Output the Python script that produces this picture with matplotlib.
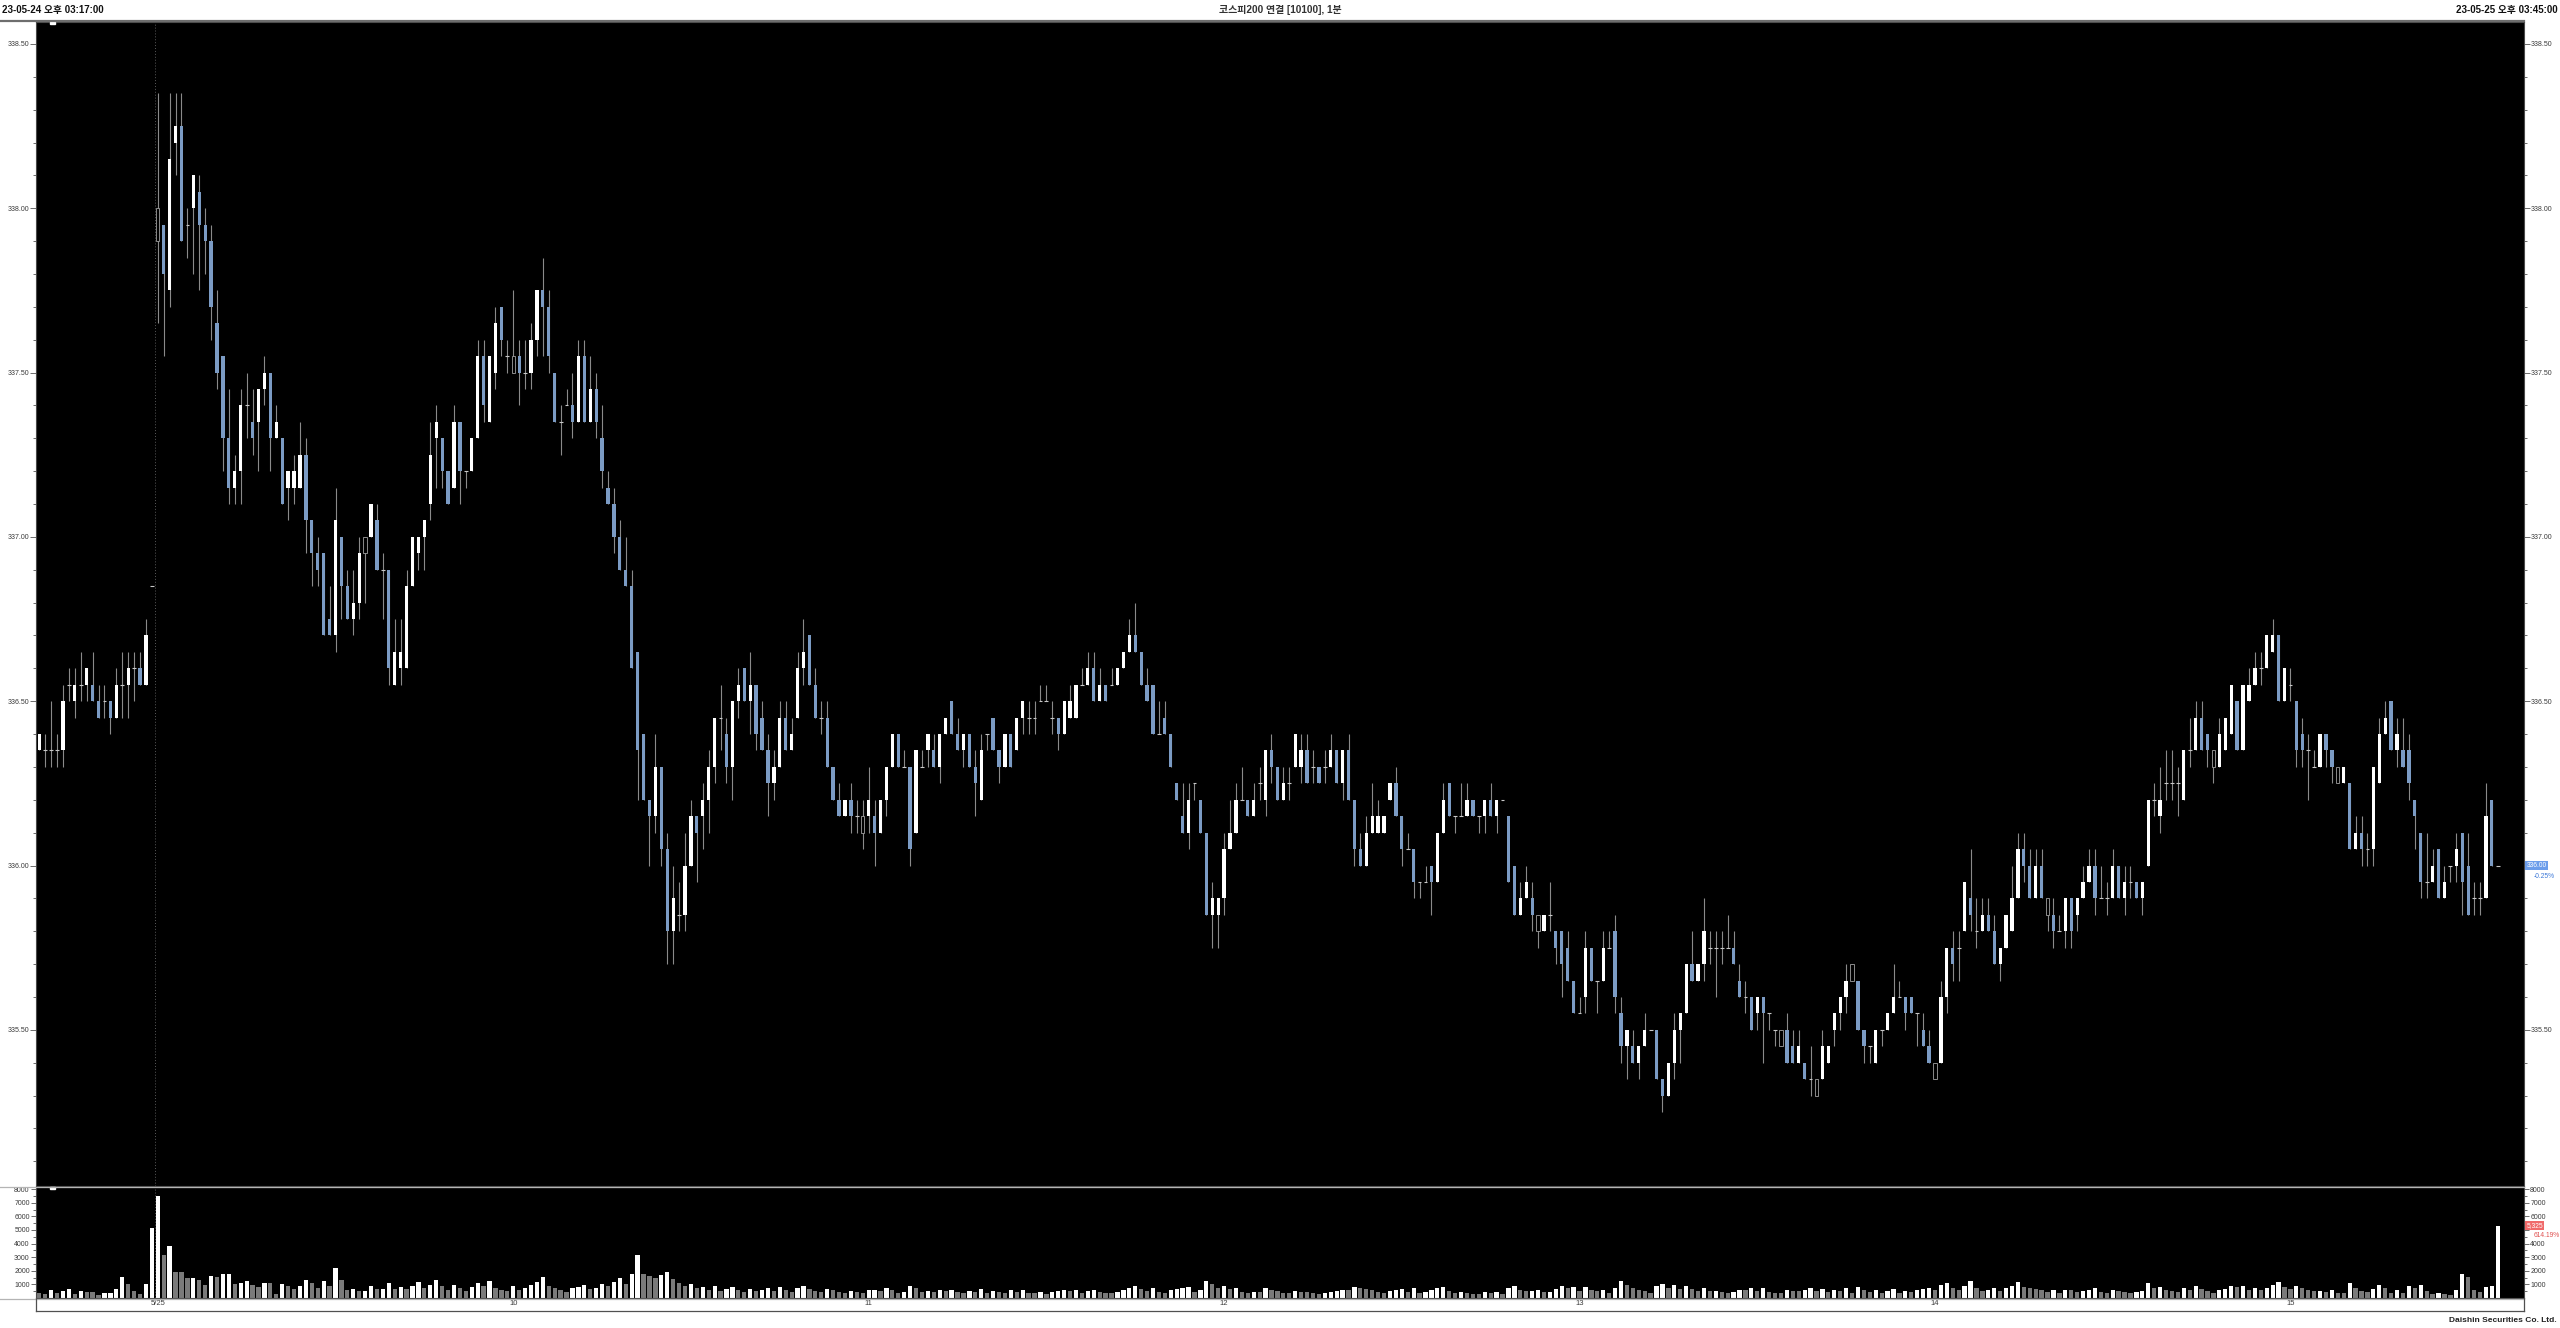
import matplotlib
matplotlib.use("Agg")
import matplotlib.pyplot as plt
import numpy as np
from matplotlib.lines import Line2D
from matplotlib.patches import Rectangle
from matplotlib.ticker import FormatStrFormatter, FixedLocator
import matplotlib.transforms as mtransforms

plt.rcParams['font.family'] = ['Liberation Sans', 'Noto Sans CJK KR']

# 1-minute bars, 23-05-24 15:17 .. 23-05-25 15:45
opens = [
    336.35, 336.35, 336.35, 336.35, 336.35, 336.55, 336.50, 336.55, 336.55, 336.55,
    336.50, 336.50, 336.50, 336.45, 336.55, 336.55, 336.60, 336.60, 336.55, 336.85,
    337.90, 337.95, 337.75, 338.20, 338.25, 337.95, 338.00, 338.05, 337.95, 337.90,
    337.65, 337.55, 337.30, 337.15, 337.20, 337.40, 337.35, 337.35, 337.45, 337.50,
    337.30, 337.30, 337.15, 337.15, 337.15, 337.25, 337.05, 336.95, 336.95, 336.75,
    336.70, 337.00, 336.85, 336.75, 336.80, 336.95, 337.00, 337.05, 336.90, 336.90,
    336.55, 336.60, 336.60, 336.85, 336.95, 337.00, 337.10, 337.30, 337.30, 337.20,
    337.15, 337.35, 337.20, 337.20, 337.30, 337.55, 337.35, 337.50, 337.70, 337.55,
    337.50, 337.55, 337.50, 337.50, 337.60, 337.75, 337.70, 337.50, 337.35, 337.40,
    337.40, 337.35, 337.55, 337.35, 337.45, 337.30, 337.15, 337.10, 337.00, 336.90,
    336.85, 336.65, 336.40, 336.20, 336.15, 336.30, 336.05, 335.80, 335.85, 335.85,
    336.00, 336.15, 336.15, 336.20, 336.30, 336.45, 336.40, 336.30, 336.50, 336.60,
    336.50, 336.55, 336.45, 336.35, 336.25, 336.30, 336.45, 336.35, 336.45, 336.60,
    336.70, 336.55, 336.45, 336.45, 336.30, 336.20, 336.15, 336.20, 336.15, 336.10,
    336.15, 336.15, 336.10, 336.20, 336.30, 336.40, 336.30, 336.30, 336.10, 336.30,
    336.35, 336.35, 336.30, 336.40, 336.50, 336.40, 336.35, 336.40, 336.30, 336.20,
    336.40, 336.45, 336.35, 336.30, 336.40, 336.35, 336.45, 336.45, 336.45, 336.50,
    336.50, 336.45, 336.45, 336.40, 336.45, 336.45, 336.55, 336.55, 336.60, 336.50,
    336.55, 336.55, 336.55, 336.60, 336.65, 336.70, 336.65, 336.55, 336.55, 336.40,
    336.45, 336.40, 336.25, 336.15, 336.10, 336.25, 336.20, 336.10, 335.85, 335.85,
    335.90, 336.05, 336.10, 336.20, 336.20, 336.15, 336.25, 336.20, 336.35, 336.30,
    336.20, 336.25, 336.30, 336.30, 336.35, 336.30, 336.30, 336.30, 336.30, 336.35,
    336.25, 336.35, 336.20, 336.05, 336.00, 336.10, 336.10, 336.10, 336.20, 336.25,
    336.15, 336.05, 336.05, 335.95, 335.95, 336.00, 335.95, 336.10, 336.25, 336.15,
    336.15, 336.15, 336.20, 336.15, 336.15, 336.20, 336.15, 336.20, 336.15, 336.00,
    335.85, 335.90, 335.90, 335.85, 335.80, 335.85, 335.80, 335.80, 335.75, 335.65,
    335.55, 335.60, 335.75, 335.65, 335.65, 335.75, 335.80, 335.55, 335.45, 335.45,
    335.40, 335.45, 335.50, 335.50, 335.35, 335.30, 335.40, 335.50, 335.55, 335.70,
    335.65, 335.70, 335.75, 335.75, 335.75, 335.75, 335.75, 335.65, 335.60, 335.60,
    335.55, 335.60, 335.55, 335.50, 335.45, 335.50, 335.45, 335.40, 335.40, 335.35,
    335.30, 335.35, 335.40, 335.50, 335.55, 335.60, 335.65, 335.65, 335.50, 335.45,
    335.40, 335.50, 335.50, 335.55, 335.60, 335.60, 335.60, 335.55, 335.50, 335.45,
    335.40, 335.40, 335.60, 335.75, 335.75, 335.80, 335.90, 335.80, 335.80, 335.85,
    335.80, 335.70, 335.75, 335.80, 335.90, 336.05, 336.00, 335.90, 336.00, 335.85,
    335.85, 335.80, 335.80, 335.90, 335.85, 335.90, 335.95, 336.00, 335.90, 335.90,
    335.90, 336.00, 335.90, 335.95, 335.95, 335.90, 336.00, 336.20, 336.15, 336.25,
    336.25, 336.25, 336.20, 336.35, 336.35, 336.45, 336.40, 336.30, 336.30, 336.35,
    336.40, 336.50, 336.35, 336.50, 336.55, 336.60, 336.60, 336.65, 336.70, 336.50,
    336.55, 336.50, 336.40, 336.35, 336.30, 336.30, 336.40, 336.35, 336.25, 336.25,
    336.25, 336.05, 336.10, 336.05, 336.05, 336.25, 336.40, 336.50, 336.35, 336.35,
    336.35, 336.20, 336.10, 335.95, 335.95, 336.05, 335.90, 336.00, 336.00, 336.10,
    336.00, 335.90, 335.90, 335.90, 336.20, 336.00,
]
highs = [
    336.40, 336.40, 336.50, 336.40, 336.55, 336.60, 336.60, 336.65, 336.60, 336.65,
    336.55, 336.55, 336.50, 336.60, 336.65, 336.65, 336.65, 336.65, 336.75, 336.85,
    338.35, 337.95, 338.35, 338.35, 338.35, 338.00, 338.10, 338.10, 338.00, 337.95,
    337.75, 337.55, 337.45, 337.25, 337.45, 337.50, 337.45, 337.45, 337.55, 337.50,
    337.40, 337.30, 337.20, 337.25, 337.35, 337.30, 337.05, 337.00, 336.95, 336.85,
    337.15, 337.00, 336.90, 336.90, 337.00, 337.00, 337.10, 337.10, 336.95, 336.90,
    336.75, 336.75, 336.90, 337.00, 337.00, 337.05, 337.35, 337.40, 337.30, 337.20,
    337.40, 337.35, 337.20, 337.30, 337.60, 337.60, 337.55, 337.70, 337.70, 337.60,
    337.75, 337.60, 337.60, 337.65, 337.75, 337.85, 337.75, 337.50, 337.40, 337.45,
    337.50, 337.60, 337.60, 337.55, 337.50, 337.40, 337.20, 337.15, 337.05, 337.00,
    336.90, 336.65, 336.40, 336.20, 336.40, 336.30, 336.10, 336.00, 335.95, 336.10,
    336.20, 336.15, 336.25, 336.35, 336.45, 336.55, 336.45, 336.50, 336.60, 336.60,
    336.65, 336.55, 336.50, 336.40, 336.35, 336.50, 336.50, 336.45, 336.65, 336.75,
    336.70, 336.60, 336.50, 336.50, 336.30, 336.25, 336.20, 336.25, 336.20, 336.20,
    336.30, 336.20, 336.20, 336.30, 336.40, 336.40, 336.35, 336.30, 336.35, 336.35,
    336.40, 336.40, 336.40, 336.45, 336.50, 336.45, 336.40, 336.40, 336.35, 336.40,
    336.40, 336.45, 336.35, 336.40, 336.40, 336.45, 336.50, 336.50, 336.50, 336.55,
    336.55, 336.50, 336.45, 336.50, 336.55, 336.55, 336.60, 336.65, 336.65, 336.60,
    336.55, 336.60, 336.60, 336.65, 336.75, 336.80, 336.65, 336.60, 336.55, 336.50,
    336.50, 336.40, 336.25, 336.25, 336.25, 336.25, 336.20, 336.10, 335.95, 335.90,
    336.10, 336.20, 336.25, 336.30, 336.20, 336.25, 336.30, 336.35, 336.40, 336.30,
    336.30, 336.30, 336.40, 336.40, 336.40, 336.35, 336.30, 336.35, 336.40, 336.35,
    336.35, 336.40, 336.20, 336.10, 336.15, 336.25, 336.20, 336.15, 336.25, 336.30,
    336.15, 336.10, 336.05, 335.95, 336.00, 336.00, 336.10, 336.25, 336.25, 336.15,
    336.25, 336.25, 336.20, 336.15, 336.20, 336.25, 336.20, 336.20, 336.15, 336.00,
    335.95, 336.00, 335.95, 335.85, 335.85, 335.95, 335.80, 335.80, 335.80, 335.65,
    335.60, 335.80, 335.75, 335.65, 335.80, 335.80, 335.85, 335.60, 335.50, 335.50,
    335.45, 335.55, 335.50, 335.50, 335.35, 335.40, 335.55, 335.55, 335.70, 335.80,
    335.70, 335.90, 335.80, 335.80, 335.80, 335.85, 335.80, 335.70, 335.65, 335.60,
    335.60, 335.60, 335.55, 335.50, 335.50, 335.55, 335.50, 335.50, 335.40, 335.45,
    335.35, 335.50, 335.45, 335.55, 335.60, 335.70, 335.70, 335.65, 335.50, 335.45,
    335.50, 335.50, 335.55, 335.70, 335.65, 335.60, 335.60, 335.55, 335.55, 335.50,
    335.40, 335.65, 335.75, 335.80, 335.80, 335.95, 336.05, 335.90, 335.90, 335.90,
    335.85, 335.75, 335.85, 336.00, 336.10, 336.10, 336.05, 336.05, 336.05, 335.90,
    335.90, 335.85, 335.90, 335.90, 335.90, 336.00, 336.05, 336.05, 336.00, 335.95,
    336.05, 336.00, 336.00, 336.00, 335.95, 335.95, 336.20, 336.25, 336.30, 336.35,
    336.35, 336.30, 336.35, 336.45, 336.50, 336.50, 336.40, 336.35, 336.45, 336.45,
    336.55, 336.50, 336.55, 336.60, 336.65, 336.65, 336.70, 336.75, 336.70, 336.60,
    336.60, 336.50, 336.45, 336.40, 336.35, 336.40, 336.40, 336.35, 336.30, 336.30,
    336.25, 336.15, 336.15, 336.10, 336.30, 336.45, 336.50, 336.50, 336.45, 336.45,
    336.40, 336.20, 336.10, 336.10, 336.05, 336.05, 336.00, 336.00, 336.10, 336.10,
    336.10, 335.95, 335.95, 336.25, 336.20, 336.00,
]
lows = [
    336.35, 336.30, 336.30, 336.30, 336.30, 336.50, 336.45, 336.50, 336.50, 336.50,
    336.45, 336.45, 336.40, 336.45, 336.45, 336.45, 336.50, 336.55, 336.55, 336.85,
    337.65, 337.55, 337.70, 338.10, 337.90, 337.85, 337.80, 337.75, 337.80, 337.60,
    337.45, 337.20, 337.10, 337.10, 337.10, 337.30, 337.25, 337.20, 337.40, 337.20,
    337.30, 337.10, 337.05, 337.10, 337.15, 336.95, 336.85, 336.85, 336.70, 336.70,
    336.65, 336.75, 336.75, 336.70, 336.75, 336.80, 337.00, 336.90, 336.75, 336.55,
    336.55, 336.55, 336.60, 336.85, 336.90, 336.90, 337.05, 337.15, 337.15, 337.10,
    337.15, 337.10, 337.15, 337.20, 337.30, 337.35, 337.35, 337.45, 337.55, 337.50,
    337.50, 337.40, 337.45, 337.45, 337.55, 337.55, 337.50, 337.35, 337.25, 337.40,
    337.30, 337.35, 337.35, 337.35, 337.30, 337.15, 337.10, 336.95, 336.90, 336.85,
    336.60, 336.20, 336.20, 336.00, 336.10, 336.00, 335.70, 335.70, 335.80, 335.80,
    336.00, 335.95, 336.05, 336.10, 336.25, 336.35, 336.25, 336.20, 336.45, 336.50,
    336.40, 336.35, 336.35, 336.15, 336.20, 336.30, 336.35, 336.35, 336.45, 336.55,
    336.55, 336.45, 336.40, 336.30, 336.20, 336.15, 336.15, 336.10, 336.10, 336.05,
    336.10, 336.00, 336.10, 336.15, 336.30, 336.30, 336.30, 336.00, 336.10, 336.30,
    336.30, 336.30, 336.25, 336.40, 336.40, 336.35, 336.30, 336.30, 336.15, 336.20,
    336.35, 336.35, 336.25, 336.30, 336.30, 336.35, 336.40, 336.40, 336.40, 336.50,
    336.50, 336.40, 336.35, 336.40, 336.45, 336.45, 336.55, 336.55, 336.50, 336.50,
    336.50, 336.55, 336.55, 336.60, 336.65, 336.65, 336.55, 336.50, 336.40, 336.40,
    336.40, 336.30, 336.20, 336.10, 336.05, 336.20, 336.10, 335.85, 335.75, 335.75,
    335.85, 336.05, 336.10, 336.20, 336.15, 336.15, 336.20, 336.15, 336.25, 336.20,
    336.20, 336.20, 336.30, 336.25, 336.25, 336.25, 336.25, 336.25, 336.30, 336.25,
    336.20, 336.20, 336.00, 336.00, 336.00, 336.10, 336.10, 336.10, 336.20, 336.15,
    336.00, 336.05, 335.90, 335.90, 335.95, 335.85, 335.95, 336.10, 336.15, 336.10,
    336.15, 336.15, 336.15, 336.10, 336.10, 336.15, 336.10, 336.20, 335.95, 335.85,
    335.85, 335.90, 335.80, 335.75, 335.80, 335.80, 335.70, 335.60, 335.65, 335.55,
    335.55, 335.55, 335.65, 335.55, 335.65, 335.75, 335.55, 335.40, 335.35, 335.40,
    335.35, 335.45, 335.50, 335.35, 335.25, 335.30, 335.35, 335.40, 335.55, 335.65,
    335.65, 335.65, 335.70, 335.60, 335.70, 335.75, 335.70, 335.60, 335.55, 335.50,
    335.50, 335.40, 335.50, 335.45, 335.45, 335.40, 335.40, 335.40, 335.35, 335.30,
    335.30, 335.35, 335.40, 335.45, 335.50, 335.55, 335.65, 335.50, 335.40, 335.40,
    335.40, 335.45, 335.50, 335.55, 335.60, 335.50, 335.55, 335.45, 335.45, 335.40,
    335.35, 335.40, 335.55, 335.65, 335.65, 335.80, 335.80, 335.75, 335.80, 335.80,
    335.70, 335.65, 335.75, 335.80, 335.90, 335.95, 335.90, 335.90, 335.90, 335.80,
    335.75, 335.80, 335.75, 335.75, 335.80, 335.90, 335.95, 335.85, 335.90, 335.85,
    335.90, 335.90, 335.85, 335.90, 335.90, 335.85, 336.00, 336.15, 336.10, 336.20,
    336.20, 336.15, 336.20, 336.30, 336.35, 336.35, 336.30, 336.25, 336.30, 336.35,
    336.40, 336.35, 336.35, 336.50, 336.55, 336.55, 336.60, 336.65, 336.50, 336.50,
    336.50, 336.30, 336.30, 336.20, 336.30, 336.30, 336.30, 336.25, 336.25, 336.25,
    336.05, 336.05, 336.00, 336.00, 336.00, 336.25, 336.40, 336.35, 336.30, 336.30,
    336.20, 336.05, 335.90, 335.90, 335.95, 335.90, 335.90, 335.95, 335.95, 335.85,
    335.85, 335.85, 335.85, 335.90, 336.00, 336.00,
]
closes = [
    336.40, 336.35, 336.35, 336.35, 336.50, 336.55, 336.55, 336.55, 336.60, 336.50,
    336.45, 336.50, 336.45, 336.55, 336.55, 336.60, 336.60, 336.55, 336.70, 336.85,
    338.00, 337.80, 338.15, 338.25, 337.90, 337.95, 338.10, 337.95, 337.90, 337.70,
    337.50, 337.30, 337.15, 337.20, 337.40, 337.40, 337.30, 337.45, 337.50, 337.30,
    337.35, 337.10, 337.20, 337.20, 337.25, 337.05, 336.95, 336.90, 336.70, 336.70,
    337.05, 336.85, 336.75, 336.80, 336.95, 337.00, 337.10, 336.90, 336.90, 336.60,
    336.65, 336.65, 336.85, 337.00, 337.00, 337.05, 337.25, 337.35, 337.20, 337.10,
    337.35, 337.20, 337.20, 337.30, 337.55, 337.40, 337.55, 337.65, 337.60, 337.55,
    337.55, 337.50, 337.50, 337.60, 337.75, 337.70, 337.55, 337.35, 337.35, 337.40,
    337.35, 337.55, 337.35, 337.45, 337.35, 337.20, 337.10, 337.00, 336.90, 336.85,
    336.60, 336.35, 336.20, 336.15, 336.30, 336.05, 335.80, 335.90, 335.85, 336.00,
    336.15, 336.10, 336.20, 336.30, 336.45, 336.45, 336.30, 336.50, 336.55, 336.50,
    336.55, 336.40, 336.35, 336.25, 336.30, 336.45, 336.35, 336.40, 336.60, 336.65,
    336.55, 336.45, 336.45, 336.30, 336.20, 336.15, 336.20, 336.15, 336.15, 336.15,
    336.20, 336.10, 336.20, 336.30, 336.40, 336.30, 336.30, 336.05, 336.35, 336.30,
    336.40, 336.30, 336.40, 336.45, 336.40, 336.35, 336.40, 336.30, 336.25, 336.35,
    336.40, 336.35, 336.30, 336.40, 336.30, 336.45, 336.50, 336.45, 336.45, 336.50,
    336.50, 336.45, 336.40, 336.50, 336.50, 336.55, 336.55, 336.60, 336.50, 336.55,
    336.50, 336.55, 336.60, 336.65, 336.70, 336.65, 336.55, 336.50, 336.40, 336.40,
    336.40, 336.30, 336.20, 336.10, 336.20, 336.25, 336.10, 335.85, 335.90, 335.90,
    336.05, 336.10, 336.20, 336.20, 336.15, 336.20, 336.25, 336.35, 336.30, 336.20,
    336.25, 336.25, 336.40, 336.35, 336.25, 336.30, 336.25, 336.30, 336.35, 336.25,
    336.35, 336.20, 336.05, 336.00, 336.10, 336.15, 336.15, 336.15, 336.25, 336.15,
    336.05, 336.05, 335.95, 335.95, 335.95, 335.95, 336.10, 336.20, 336.15, 336.15,
    336.15, 336.20, 336.15, 336.15, 336.20, 336.15, 336.20, 336.20, 335.95, 335.85,
    335.90, 335.95, 335.85, 335.80, 335.85, 335.85, 335.75, 335.70, 335.65, 335.55,
    335.55, 335.75, 335.65, 335.65, 335.75, 335.75, 335.60, 335.45, 335.50, 335.40,
    335.45, 335.50, 335.50, 335.35, 335.30, 335.40, 335.50, 335.55, 335.70, 335.65,
    335.70, 335.80, 335.75, 335.75, 335.75, 335.75, 335.70, 335.60, 335.60, 335.50,
    335.60, 335.55, 335.55, 335.50, 335.50, 335.40, 335.40, 335.45, 335.35, 335.35,
    335.35, 335.45, 335.45, 335.55, 335.60, 335.65, 335.70, 335.50, 335.45, 335.45,
    335.50, 335.50, 335.55, 335.60, 335.60, 335.55, 335.55, 335.55, 335.45, 335.40,
    335.35, 335.60, 335.75, 335.70, 335.75, 335.95, 335.85, 335.80, 335.85, 335.80,
    335.70, 335.75, 335.85, 335.90, 336.05, 336.00, 335.90, 336.00, 335.90, 335.90,
    335.80, 335.80, 335.90, 335.80, 335.90, 335.95, 336.00, 335.90, 335.90, 335.90,
    336.00, 335.90, 335.95, 335.95, 335.90, 335.95, 336.20, 336.20, 336.20, 336.25,
    336.25, 336.25, 336.35, 336.35, 336.45, 336.35, 336.35, 336.35, 336.40, 336.45,
    336.55, 336.35, 336.55, 336.55, 336.60, 336.60, 336.70, 336.70, 336.50, 336.60,
    336.55, 336.35, 336.35, 336.35, 336.30, 336.40, 336.35, 336.30, 336.30, 336.30,
    336.05, 336.10, 336.05, 336.05, 336.30, 336.40, 336.45, 336.35, 336.40, 336.30,
    336.25, 336.15, 335.95, 335.95, 336.00, 335.90, 335.95, 336.00, 336.05, 335.95,
    335.85, 335.90, 335.90, 336.15, 336.00, 336.00,
]
volumes = [
    357, 310, 595, 357, 500, 690, 310, 548, 430, 420,
    240, 333, 380, 643, 1550, 1000, 548, 310, 1000, 5140,
    7480, 3170, 3860, 1930, 1920, 1450, 1460, 1310, 930, 1640,
    1570, 1790, 1800, 1020, 1120, 1260, 930, 790, 1080, 1070,
    260, 1020, 880, 690, 860, 1310, 1120, 740, 1260, 860,
    2240, 1310, 595, 643, 500, 510, 880, 643, 690, 1070,
    690, 820, 640, 900, 1150, 760, 980, 1320, 850, 600,
    940, 700, 520, 830, 1100, 880, 1250, 700, 560, 480,
    900, 620, 710, 930, 1180, 1520, 900, 720, 610, 450,
    760, 820, 960, 640, 720, 1040, 870, 1210, 1480, 1060,
    1750, 3150, 1780, 1650, 1490, 1720, 1930, 1380, 1100, 880,
    1010, 720, 810, 590, 900, 510, 690, 820, 560, 470,
    690, 540, 620, 760, 480, 830, 560, 450, 720, 880,
    640, 520, 410, 690, 580, 430, 360, 520, 410, 380,
    560, 620, 480, 700, 560, 380, 440, 900, 720, 410,
    520, 430, 610, 480, 560, 420, 380, 510, 460, 650,
    400, 520, 440, 380, 560, 470, 610, 390, 350, 420,
    330, 450, 520, 610, 480, 560, 370, 490, 620, 430,
    380, 340, 450, 560, 720, 880, 650, 540, 700, 420,
    380, 560, 690, 720, 820, 450, 600, 1250, 1020, 760,
    880, 640, 720, 430, 380, 460, 410, 700, 560, 520,
    400, 380, 520, 460, 420, 350, 300, 390, 440, 510,
    620, 560, 840, 720, 640, 560, 420, 380, 520, 600,
    690, 410, 720, 380, 450, 560, 700, 820, 540, 360,
    420, 380, 330, 290, 410, 360, 450, 280, 760, 900,
    560, 480, 520, 610, 420, 460, 680, 890, 720, 800,
    520, 780, 610, 480, 590, 400, 760, 1220, 980, 720,
    600, 520, 380, 860, 1020, 760, 940, 680, 880, 640,
    520, 760, 480, 520, 410, 380, 450, 620, 560, 700,
    480, 720, 430, 380, 350, 620, 520, 480, 560, 740,
    500, 680, 450, 600, 520, 710, 380, 820, 560, 420,
    610, 380, 490, 660, 400, 520, 460, 560, 640, 720,
    580, 980, 1120, 760, 600, 880, 1250, 760, 520, 600,
    720, 540, 700, 860, 1150, 820, 700, 640, 560, 430,
    600, 380, 620, 560, 420, 500, 600, 720, 460, 380,
    560, 500, 420, 380, 450, 520, 1100, 760, 820, 560,
    480, 420, 720, 600, 850, 680, 520, 380, 560, 640,
    900, 780, 860, 620, 700, 560, 760, 980, 1200, 820,
    640, 900, 720, 560, 480, 520, 440, 560, 400, 360,
    1100, 720, 550, 430, 660, 950, 720, 380, 620, 340,
    880, 760, 950, 520, 280, 390, 260, 230, 620, 1750,
    1550, 580, 430, 800, 867, 5325,
]
hollow_bars = [20, 55, 80, 139, 253, 294, 300, 306, 320, 339, 367, 388]
day_break = 19.5
prev_close_bar = 19
hour_bars = [20, 80, 140, 200, 260, 320, 380]
hour_labels = ['5/25', '10', '11', '12', '13', '14', '15']
price_ticks = [335.5, 336.0, 336.5, 337.0, 337.5, 338.0, 338.5]
vol_ticks = [1000, 2000, 3000, 4000, 5000, 6000, 7000, 8000]
header_left = '23-05-24 오후 03:17:00'
header_right = '23-05-25 오후 03:45:00'
title = '코스피200 연결 [10100], 1분'
footer = 'Daishin Securities Co. Ltd.'

W, H = 2560, 1328
def fx(px):
    return px / W
def fy(py):
    return 1 - py / H

o = np.array(opens); h = np.array(highs); l = np.array(lows); c = np.array(closes)
v = np.array(volumes)
n = len(o)
x = np.arange(n)

UP = 'white'
DOWN = '#7b9bc4'
WICK = '#8a8a8a'
TXT = '#3a3a3a'

fig = plt.figure(figsize=(W / 100, H / 100), dpi=100, facecolor='white')
left, right = 36, 2524
ax = fig.add_axes([fx(left), fy(1186), fx(right - left), (1186 - 22) / H])
axv = fig.add_axes([fx(left), fy(1298), fx(right - left), (1298 - 1187) / H], sharex=ax)
for a in (ax, axv):
    a.set_facecolor('black')
    for s in a.spines.values():
        s.set_color('#4a4a4a')
        s.set_linewidth(0.8)

# price candles
hol = np.zeros(n, bool)
hol[hollow_bars] = True
up = (c > o + 1e-9) & ~hol
dn = (c < o - 1e-9) & ~hol
dj = (np.abs(c - o) < 1e-9) & ~hol
bw = 0.55
ax.vlines(x, l, h, color=WICK, lw=0.8, zorder=2)
ax.bar(x[up], (c - o)[up], bottom=o[up], width=bw, color=UP, lw=0, zorder=3)
ax.bar(x[dn], (o - c)[dn], bottom=c[dn], width=bw, color=DOWN, lw=0, zorder=3)
ax.bar(x[hol], np.abs(c - o)[hol], bottom=np.minimum(o, c)[hol], width=bw,
       facecolor='black', edgecolor='#a0a0a0', lw=0.6, zorder=3)
ax.hlines(c[dj], x[dj] - 0.32, x[dj] + 0.32, color='#c8c8c8', lw=0.8, zorder=3)

ax.set_xlim((left - 39.3) / 5.924, (right - 39.3) / 5.924)
ax.set_ylim(338.5 - (1186 - 44) / 328.6, 338.5 - (22 - 44) / 328.6)
ax.axvline(day_break, color='#5a5a5a', ls=(0, (1, 2)), lw=0.7, zorder=1)

ax.yaxis.set_major_locator(FixedLocator(price_ticks))
ax.yaxis.set_minor_locator(FixedLocator(np.arange(335.1, 338.55, 0.1)))
ax.yaxis.set_major_formatter(FormatStrFormatter('%.2f'))
ax.tick_params(axis='y', which='both', left=True, right=True, labelleft=True,
               labelright=True, direction='out', colors='#555555',
               labelcolor=TXT, labelsize=5, pad=1)
ax.tick_params(axis='y', which='major', length=4, width=0.6)
ax.tick_params(axis='y', which='minor', length=2.5, width=0.6)
ax.tick_params(axis='x', bottom=False, labelbottom=False)

# volume bars: white when volume rose vs previous bar
vcol = ['#7a7a7a'] + ['white' if v[i] > v[i - 1] else '#7a7a7a' for i in range(1, n)]
axv.bar(x, v, width=0.72, color=vcol, lw=0)
axv.set_ylim(0, (1298 - 1187) / 13.6 * 1000)
axv.axvline(day_break, color='#5a5a5a', ls=(0, (1, 2)), lw=0.7)
axv.yaxis.set_major_locator(FixedLocator(vol_ticks))
axv.yaxis.set_minor_locator(FixedLocator(np.arange(500, 8100, 500)))
axv.yaxis.set_major_formatter(FormatStrFormatter('%d'))
axv.tick_params(axis='y', which='both', left=True, right=True, labelleft=True,
                labelright=True, direction='out', colors='#555555',
                labelcolor=TXT, labelsize=5, pad=1)
axv.tick_params(axis='y', which='major', length=3.5, width=0.6)
axv.tick_params(axis='y', which='minor', length=2, width=0.6)
axv.set_xticks(hour_bars)
axv.set_xticklabels(hour_labels)
axv.tick_params(axis='x', length=0, pad=1.5, labelsize=5.5, labelcolor=TXT)

# the right-hand tags cover the axis labels they sit on
for t, val in zip(ax.yaxis.get_major_ticks(), price_ticks):
    if abs(val - c[-1]) < 0.2:
        t.label2.set_visible(False)
for t, val in zip(axv.yaxis.get_major_ticks(), vol_ticks):
    if abs(val - v[-1]) < 600:
        t.label2.set_visible(False)

# last price / last volume tags on the right
trans = mtransforms.blended_transform_factory(ax.transAxes, ax.transData)
chg = (c[-1] - c[prev_close_bar]) / c[prev_close_bar] * 100
ax.text(1.001, c[-1], f'{c[-1]:.2f}', transform=trans, ha='left', va='center',
        color='white', fontsize=4.8, clip_on=False,
        bbox=dict(boxstyle='square,pad=0.15', fc='#6d9eeb', ec='none'))
ax.annotate(f'{chg:.2f}%', xy=(1.004, c[-1]), xycoords=trans, xytext=(0, -8),
            textcoords='offset points', ha='left', va='center',
            color='#3c78d8', fontsize=4.8, annotation_clip=False)
transv = mtransforms.blended_transform_factory(axv.transAxes, axv.transData)
axv.text(1.001, v[-1], f'{v[-1]:,}', transform=transv, ha='left', va='center',
         color='white', fontsize=4.8, clip_on=False,
         bbox=dict(boxstyle='square,pad=0.15', fc='#f06a6a', ec='none'))
axv.annotate(f'{v[-1] / v[-2] * 100:.2f}%', xy=(1.004, v[-1]), xycoords=transv,
             xytext=(0, -7.5), textcoords='offset points', ha='left', va='center',
             color='#e0504f', fontsize=4.8, annotation_clip=False)

# frame lines around the panels
def hline(y, x0, x1, color, lw):
    fig.add_artist(Line2D([fx(x0), fx(x1)], [fy(y), fy(y)], color=color, lw=lw,
                          transform=fig.transFigure))
def vline(xp, y0, y1, color, lw):
    fig.add_artist(Line2D([fx(xp), fx(xp)], [fy(y0), fy(y1)], color=color, lw=lw,
                          transform=fig.transFigure))
hline(21, 0, right, '#6e6e6e', 1.6)
hline(1186.5, 0, right, '#b4b4b4', 0.9)
hline(1298.5, 0, right, '#b4b4b4', 0.9)
hline(1311, left, right, '#505050', 0.9)
vline(left, 1298, 1311, '#505050', 0.9)
vline(right, 1298, 1311, '#505050', 0.9)

# small handle markers
fig.add_artist(Rectangle((fx(50), fy(24)), fx(5), 2 / H, color='white', transform=fig.transFigure))
fig.add_artist(Rectangle((fx(50), fy(1189)), fx(5), 2 / H, color='white', transform=fig.transFigure))

fig.text(fx(2), fy(10), header_left, ha='left', va='center', fontsize=7,
         fontweight='bold', color='#111111')
fig.text(0.5, fy(10), title, ha='center', va='center', fontsize=7.2,
         fontweight='bold', color='#333333')
fig.text(fx(2558), fy(10), header_right, ha='right', va='center', fontsize=7,
         fontweight='bold', color='#111111')
fig.text(fx(2557), fy(1320), footer, ha='right', va='center', fontsize=6,
         fontweight='bold', color='#222222')

fig.savefig('out.png', dpi=100, facecolor='white')
